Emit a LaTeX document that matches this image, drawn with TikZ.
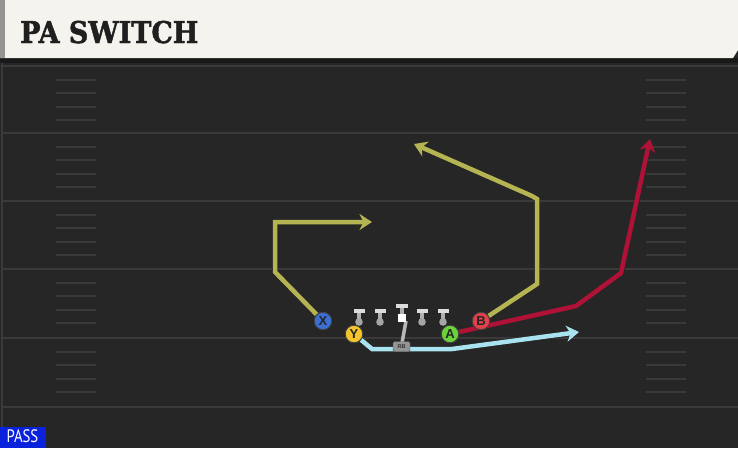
\documentclass[tikz,border=0pt]{standalone}
\usepackage{fontspec}
\setmainfont{Liberation Sans}
\newfontfamily\titlefont[BoldFeatures={FakeBold=1.6}]{DejaVu Serif}
\newfontfamily\passfont{PT Sans}
\usetikzlibrary{arrows.meta}
\pgfdeclarelayer{fg}
\pgfsetlayers{main,fg}
\definecolor{fieldbg}{HTML}{262626}
\definecolor{yardline}{HTML}{3A3A3A}
\definecolor{headcream}{HTML}{F5F3ED}
\definecolor{olive}{HTML}{B5B452}
\definecolor{crimson}{HTML}{AF1236}
\definecolor{skyroute}{HTML}{A9E3EF}
\definecolor{xblue}{HTML}{3B6FD3}
\definecolor{yyellow}{HTML}{F3C42C}
\definecolor{agreen}{HTML}{6BD23C}
\definecolor{bred}{HTML}{E2404B}
\definecolor{passblue}{HTML}{0B22DC}
\definecolor{tgray}{HTML}{DCDCDC}
\definecolor{dotgray}{HTML}{A5A5A5}
\tikzset{
  yard/.style={draw=yardline, line width=2pt},
  hashmark/.style={draw=yardline, line width=2pt},
  player/.style={circle, draw=black!75, line width=0.9pt, minimum size=17.5pt, inner sep=0pt,
                 font=\bfseries\fontsize{13}{13}\selectfont, text=black!85},
  route/.style={line width=4.5pt, line join=miter, line cap=butt,
                preaction={draw=black!85, line width=6pt}},
  tip/.style={-{Stealth[length=12.5pt,width=16pt,inset=4pt]}},
  pics/lineman/.style={code={
    \fill[tgray] (-5.5,-2.5) rectangle (5.5,1.5);
    \fill[tgray!80!black] (-1.8,1.5) rectangle (1.8,8);
    \fill[dotgray] (0,11) circle (3.8pt);
  }}
}
\begin{document}
\begin{tikzpicture}[x=1pt,y=-1pt]
\useasboundingbox (0,0) rectangle (738,448);
% field
\fill[fieldbg] (0,0) rectangle (738,448);
\fill[black!90] (0,58) rectangle (738,63);
\draw[yardline, line width=1.5pt] (2,63) -- (2,448);
% yard lines
\foreach \yy in {66,133,201,269,338,407} {
  \draw[yard] (3,\yy) -- (738,\yy);
}
% hash marks
\foreach \base in {66,133,201,269,338} {
  \foreach \k in {1,2,3,4} {
    \draw[hashmark] (56,{\base+13.6*\k}) -- (96,{\base+13.6*\k});
    \draw[hashmark] (646,{\base+13.6*\k}) -- (686,{\base+13.6*\k});
  }
}
% header
\fill[headcream] (0,0) -- (738,0) -- (738,50) -- (733,58) -- (0,58) -- cycle;
\fill[black!42] (0,0) rectangle (5,58);
\node[anchor=base west, inner sep=0pt, text=black!88] (title) at (20,43)
  {\scalebox{0.9}[1]{\titlefont\bfseries\fontsize{30}{30}\selectfont PA SWITCH}};
% PASS label
\fill[passblue] (0,427) rectangle (46,448);
\node[text=white, inner sep=0pt] (pass) at (22.5,436.5)
  {\scalebox{0.82}[1]{\passfont\fontsize{18}{18}\selectfont PASS}};
% linemen
\pic (lt) at (359,311) {lineman};
\pic (lg) at (380,311) {lineman};
\pic (rg) at (422,311) {lineman};
\pic (rt) at (443,311) {lineman};
\fill[tgray] (396,303.5) rectangle (408,307.5);
\fill[tgray!80!black] (400.2,307.5) rectangle (403.8,314);
% QB to RB handoff line
\coordinate (qbpos) at (406,321);
\coordinate (rbpos) at (402,343);
\draw[black!28, line width=3.5pt] (qbpos) -- (rbpos);
\begin{pgfonlayer}{fg}
\node[draw=black!65, fill=black!42, rounded corners=1.5pt, minimum width=17pt, minimum height=10pt,
      inner sep=0pt, font=\bfseries\fontsize{5.5}{5.5}\selectfont, text=black!80] (rb) at (401.5,346.5) {RB};
\node[fill=white, minimum size=8.5pt, inner sep=0pt] (qb) at (402,318) {};
% players
\node[player, fill=xblue] (X) at (323,321) {X};
\node[player, fill=yyellow] (Y) at (354,334) {Y};
\node[player, fill=agreen] (A) at (450,334) {A};
\node[player, fill=bred] (B) at (481,321) {B};
\end{pgfonlayer}
% route coordinates
\coordinate (x1) at (275,272);
\coordinate (x2) at (275,222);
\coordinate (x3) at (372,222);
\coordinate (b1) at (537,284);
\coordinate (b2) at (537,199);
\coordinate (b3) at (532,196);
\coordinate (b4) at (414,144);
\coordinate (a1) at (576,306);
\coordinate (a2) at (621,273);
\coordinate (a3) at (650,139);
\coordinate (y1) at (372,349);
\coordinate (y2) at (452,349);
\coordinate (y3) at (579,332);
% routes
\draw[route, olive, tip] (X) -- (x1) -- (x2) -- (x3);
\draw[route, olive, tip] (B) -- (b1) -- (b2) -- (b3) -- (b4);
\draw[route, crimson, tip] (A) -- (a1) -- (a2) -- (a3);
\draw[route, skyroute, tip] (Y) -- (y1) -- (y2) -- (y3);
\end{tikzpicture}
\end{document}
